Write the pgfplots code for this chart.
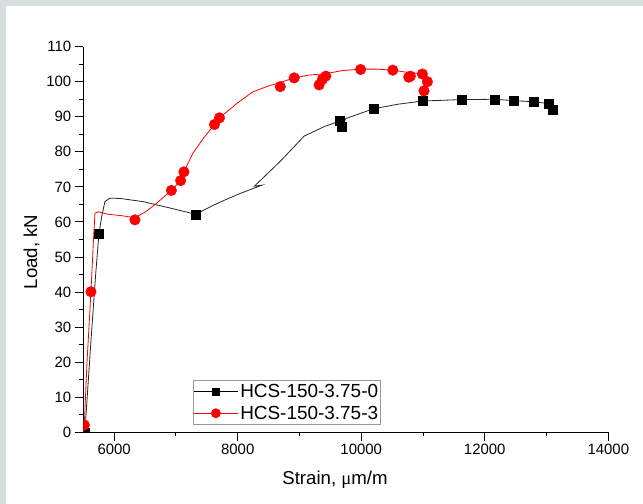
\documentclass[border=0pt]{standalone}
\usepackage{pgfplots}
\pgfplotsset{compat=1.18}
\usepackage{fontspec}
\setmainfont{Liberation Sans}
\newfontfamily\serifmu{Liberation Serif}
\definecolor{bgframe}{HTML}{D6DFDD}
\begin{document}
\begin{tikzpicture}[x=1bp,y=1bp]
\useasboundingbox (0,0) rectangle (643,504);
\fill[bgframe] (0,0) rectangle (643,504);
\fill[white] (6,0) rectangle (643,498);
\begin{axis}[
 at={(83.3bp,71.7bp)}, anchor=south west,
 scale only axis, width=525bp, height=385.6bp,
 xmin=5500, xmax=14000, ymin=0, ymax=110,
 axis lines*=left, axis line style={line width=1.2bp, -},
 tick align=outside,
 xtick={6000,8000,...,14000}, minor xtick={7000,9000,11000,13000},
 ytick={0,10,...,110}, minor ytick={5,15,...,105},
 major tick length=8.5bp, minor tick length=4bp,
 tick style={line width=1bp, black},
 ticklabel style={font=\fontsize{15}{18}\selectfont},
 /pgf/number format/assume math mode=true,
 scaled x ticks=false,
 x tick label style={/pgf/number format/1000 sep={}},
 xlabel={Strain, {\serifmu μ}m/m},
 ylabel={Load, kN},
 label style={font=\fontsize{18.7}{22}\selectfont},
 xlabel style={at={(axis description cs:0.4794,0)}, anchor=base, yshift=-52.7bp},
 ylabel style={at={(axis description cs:-0.0987,0.4676)}, anchor=center},
 legend style={at={(axis description cs:0.2093,0.1359)}, anchor=north west,
   draw=gray!80, line width=0.6bp, font=\fontsize{19}{22}\selectfont,
   inner xsep=0bp, inner ysep=2bp, row sep=3bp, legend cell align=left},
 legend image code/.code={\draw[mark repeat=2,mark phase=2,#1] plot coordinates {(0bp,0bp)(22bp,0bp)(44bp,0bp)};},
 clip marker paths=true,
]
\addlegendimage{black, line width=0.8bp, mark=square*, mark size=3.5bp}
\addlegendentry{HCS-150-3.75-0}
\addlegendimage{red, line width=0.8bp, mark=*, mark size=4.5bp}
\addlegendentry{HCS-150-3.75-3}
% black line
\addplot[black!85, line width=0.8bp, forget plot] coordinates {
(5525,0) (5620,25) (5700,45) (5753,56.6) (5797,61.5) (5850,65.8) (5930,66.8)
(6100,66.7) (6468,65.8) (6900,64.0) (7313,62.2) (7705,65.6) (8050,68.2) (8393,70.5)
(8270,70.2) (8700,77.5) (9076,84.5) (9400,87.2) (9656,88.8) (9684,87.4) (9750,89.5)
(10200,92.3) (10600,93.6) (10990,94.5) (11619,94.9) (12156,95.0) (12474,94.6)
(12785,94.3) (13027,93.8) (13092,92.1)};
\addplot[only marks, mark=square*, mark size=4.5bp, black, forget plot] coordinates {
(5529,0) (5753,56.6) (7313,62.2) (9656,88.8) (9684,87.2) (10200,92.3) (10990,94.5)
(11619,94.9) (12156,95.0) (12474,94.6) (12785,94.3) (13027,93.8) (13092,92.1)};
% red line
\addplot[red, line width=0.8bp, forget plot] coordinates {
(5505,0) (5516,2.1) (5560,20) (5624,40.1) (5665,55) (5689,62.5) (5742,62.9)
(5900,62.2) (6119,61.8) (6336,61.2) (6500,62.8) (6684,65.3) (6926,69.0) (7076,71.8)
(7129,74.3) (7274,79.6) (7450,84.0) (7624,87.8) (7705,89.7) (8000,94.0) (8242,97.1)
(8500,98.8) (8689,99.8) (8915,101.1) (9150,101.9) (9426,102.3) (9700,103.2)
(9990,103.6) (10250,103.6) (10511,103.3) (10700,102.8) (10900,102.4) (10990,102.0)
(11071,100.3) (11040,98.5) (11016,97.4) (10974,95.8)};
\addplot[only marks, mark=*, mark size=5.3bp, red, forget plot] coordinates {
(5516,2.1) (5624,40.1) (6336,60.6) (6926,69.0) (7076,71.8) (7129,74.3) (7624,87.8)
(7705,89.7) (8689,98.6) (8915,101.1) (9318,99.1) (9371,100.7) (9426,101.6)
(9990,103.5) (10511,103.3) (10769,101.3) (10796,101.6) (10990,102.2) (11071,100.0)
(11016,97.4)};
\end{axis}
\end{tikzpicture}
\end{document}
